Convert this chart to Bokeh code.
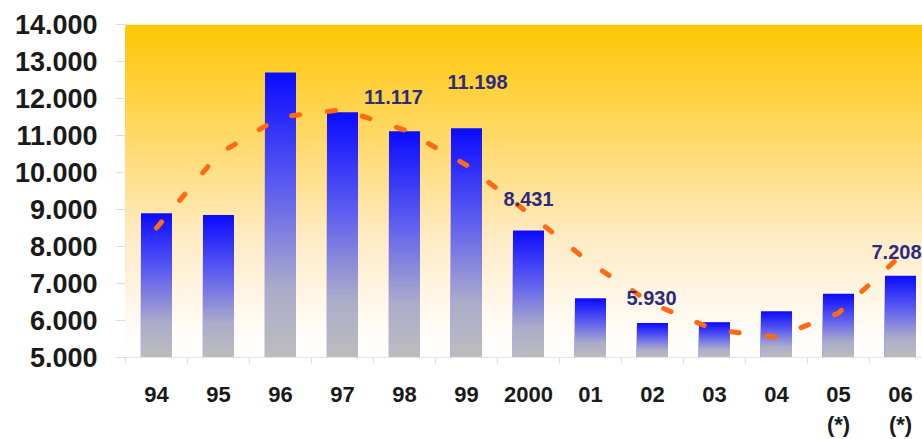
import numpy as np
from bokeh.plotting import figure
from bokeh.models import Range1d, FixedTicker, ColumnDataSource
from bokeh.core.properties import value
from bokeh.embed import file_html
from bokeh.resources import INLINE

# ---------------- data ----------------
years = ["94", "95", "96", "97", "98", "99", "2000", "01", "02", "03", "04", "05\n(*)", "06\n(*)"]
bar_values = [8900, 8850, 12700, 11630, 11117, 11198, 8431, 6600, 5930, 5950, 6250, 6720, 7208]
trend_values = [8500, 10500, 11500, 11700, 11150, 10200, 8900, 7550, 6450, 5750, 5550, 6200, 7750]
labelled_years = ["98", "99", "2000", "02", "06\n(*)"]
y_ticks = [5000, 6000, 7000, 8000, 9000, 10000, 11000, 12000, 13000, 14000]
y_tick_labels = ["5.000", "6.000", "7.000", "8.000", "9.000", "10.000", "11.000", "12.000", "13.000", "14.000"]

# ---------------- style ----------------
FONT = "Liberation Sans"
Y0, Y1 = 5000, 14000
X0, X1 = -0.5, 12.355
label_dx = [-11, 11, 0, -1, -4]
label_dy = [-34, -46, -32, -25, -24]

def hex2rgb(h):
    h = h.lstrip("#")
    return tuple(int(h[i:i + 2], 16) for i in (0, 2, 4))

def grad(stops, t):
    for (p0, c0), (p1, c1) in zip(stops[:-1], stops[1:]):
        if t <= p1:
            f = (t - p0) / (p1 - p0) if p1 > p0 else 0
            a, b = hex2rgb(c0), hex2rgb(c1)
            return "#%02x%02x%02x" % tuple(int(round(a[k] + (b[k] - a[k]) * f)) for k in range(3))
    return stops[-1][1]

bg_stops = [(0.0, "#FFC605"), (0.35, "#FFDA6C"), (0.65, "#FFECC8"), (0.92, "#FFFCF8"), (1.0, "#FFFFFF")]
bar_stops = [(0.0, "#0C0CFF"), (0.4, "#5E5EF0"), (0.75, "#ABABCB"), (1.0, "#BDBDBD")]

x_idx = list(range(len(years)))

p = figure(width=922, height=439, output_backend="svg", toolbar_location=None,
           x_range=Range1d(X0, X1), y_range=Range1d(Y0, Y1),
           min_border_left=125, min_border_right=0, min_border_top=24, min_border_bottom=82)
p.outline_line_color = None
p.xgrid.visible = False
p.ygrid.visible = False
p.background_fill_color = "white"
p.border_fill_color = "white"

# background gradient (tallest first so shorter ones paint over)
N = 160
edges = np.linspace(Y0, Y1, N + 1)[1:]
bg_tops = edges[::-1]
bg_cols = [grad(bg_stops, (Y1 - t) / (Y1 - Y0)) for t in bg_tops]
p.quad(left=X0 - 1, right=X1 + 1, bottom=Y0, top=bg_tops, fill_color=bg_cols, line_color=None)

# bars with vertical gradient
M = 70
bl, br, bt, bc = [], [], [], []
for i, v in zip(x_idx, bar_values):
    tops = np.linspace(Y0, v, M + 1)[1:][::-1]
    for t in tops:
        bl.append(i - 0.25)
        br.append(i + 0.25)
        bt.append(t)
        bc.append(grad(bar_stops, (v - t) / (v - Y0)))
p.quad(left=bl, right=br, bottom=Y0, top=bt, fill_color=bc, line_color=None)

# trend line
p.line(x_idx, trend_values, line_color="#FF6A13", line_width=5, line_dash="8 28", line_cap="round")

# value labels
li = [years.index(y) for y in labelled_years]
lsrc = ColumnDataSource(dict(
    x=li,
    y=[bar_values[i] for i in li],
    t=["{:,}".format(bar_values[i]).replace(",", ".") for i in li],
    dx=label_dx, dy=label_dy))
p.text(x="x", y="y", text="t", x_offset="dx", y_offset="dy", source=lsrc,
       text_font=value(FONT), text_font_style="bold", text_font_size="20px",
       text_color="#2B2B80", text_align="center", text_baseline="middle")

# axes
xa = p.xaxis[0]
xa.ticker = FixedTicker(ticks=x_idx, minor_ticks=[i - 0.5 for i in x_idx] + [x_idx[-1] + 0.5])
xa.major_label_overrides = {i: y for i, y in zip(x_idx, years)}
xa.axis_line_color = "#e4e4e4"
xa.major_tick_line_color = None
xa.minor_tick_line_color = "#dcdcdc"
xa.minor_tick_out = 6
xa.minor_tick_in = 0
xa.major_label_standoff = 18
xa.major_label_text_font = FONT
xa.major_label_text_font_style = "bold"
xa.major_label_text_font_size = "22px"
xa.major_label_text_color = "#1a1a1a"

ya = p.yaxis[0]
ya.ticker = FixedTicker(ticks=y_ticks)
ya.major_label_overrides = {t: l for t, l in zip(y_ticks, y_tick_labels)}
ya.axis_line_color = None
ya.major_tick_line_color = "#dedede"
ya.major_tick_out = 10
ya.major_tick_in = 0
ya.minor_tick_line_color = None
ya.major_label_standoff = 18
ya.major_label_text_font = FONT
ya.major_label_text_font_style = "bold"
ya.major_label_text_font_size = "27px"
ya.major_label_text_color = "#1a1a1a"

open("out.html", "w").write(file_html(p, INLINE))
